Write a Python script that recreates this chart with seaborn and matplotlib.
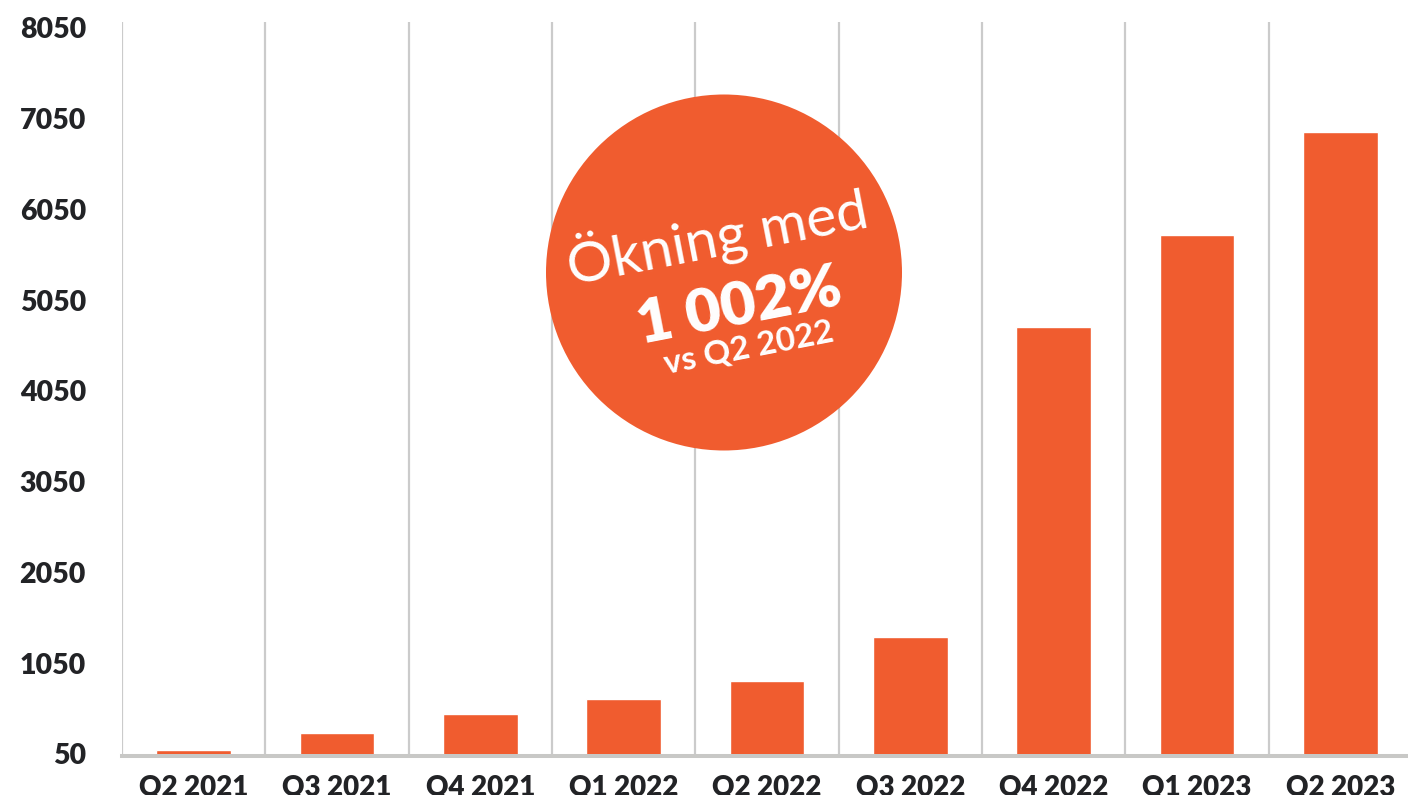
import numpy as np
import pandas as pd
import matplotlib
matplotlib.use("Agg")
import matplotlib.pyplot as plt
import seaborn as sns
from matplotlib.patches import Circle

quarters = ["Q2 2021", "Q3 2021", "Q4 2021", "Q1 2022", "Q2 2022",
            "Q3 2022", "Q4 2022", "Q1 2023", "Q2 2023"]
values = [90, 281, 491, 656, 854, 1339, 4755, 5769, 6904]
yticks = [50, 1050, 2050, 3050, 4050, 5050, 6050, 7050, 8050]

badge_lines = ["Ökning med", "1 002%", "vs Q2 2022"]

ORANGE = "#F05C2F"
GRID = "#CBCBCB"
TEXT = "#222326"

sns.set_theme(style="white")
plt.rcParams["font.family"] = ["Lato", "DejaVu Sans"]

df = pd.DataFrame({"quarter": quarters, "value": values})

fig = plt.figure(figsize=(14.08, 7.95), dpi=100)
ax = fig.add_axes([122 / 1408, 1 - 754 / 795, 1290 / 1408, (754 - 22) / 795])

sns.barplot(data=df, x="quarter", y="value", color=ORANGE, saturation=1,
            width=0.52, ax=ax, zorder=3)

# vertical separators between quarters
for b in np.arange(len(quarters)) - 0.5:
    ax.axvline(b, color=GRID, linewidth=1.6, zorder=1)

ax.set_xlim(-0.5, len(quarters) - 0.5)
ax.set_ylim(50, 8116)
ax.set_yticks(yticks)
ax.set_yticklabels([str(t) for t in yticks])
ax.set_xlabel("")
ax.set_ylabel("")

for s in ["top", "right", "left"]:
    ax.spines[s].set_visible(False)
ax.spines["bottom"].set_color("#C8C8C6")
ax.spines["bottom"].set_linewidth(2.9)
ax.spines["bottom"].set_position(("outward", 1.5))
ax.spines["bottom"].set_zorder(2)

ax.tick_params(axis="y", length=0, pad=26, labelsize=20.5, labelcolor=TEXT)
ax.tick_params(axis="x", length=0, pad=13, labelsize=20, labelcolor=TEXT)
for lab in ax.get_yticklabels() + ax.get_xticklabels():
    lab.set_fontweight("heavy")

# badge
tr = fig.dpi_scale_trans
fig.patches.append(Circle((7.24, 7.95 - 2.725), 1.78, transform=tr,
                          facecolor=ORANGE, edgecolor="none", zorder=5))
fig.text(7.17, 7.95 - 2.36, badge_lines[0], transform=tr, rotation=11,
         ha="center", va="center", color="white", fontsize=41, zorder=6,
         rotation_mode="anchor")
fig.text(7.39, 7.95 - 3.07, badge_lines[1], transform=tr, rotation=11,
         ha="center", va="center", color="white", fontsize=44,
         fontweight="heavy", zorder=6, rotation_mode="anchor")
fig.text(7.49, 7.95 - 3.48, badge_lines[2], transform=tr, rotation=11,
         ha="center", va="center", color="white", fontsize=24,
         fontweight="bold", zorder=6, rotation_mode="anchor")

fig.savefig("out.png", dpi=100)
